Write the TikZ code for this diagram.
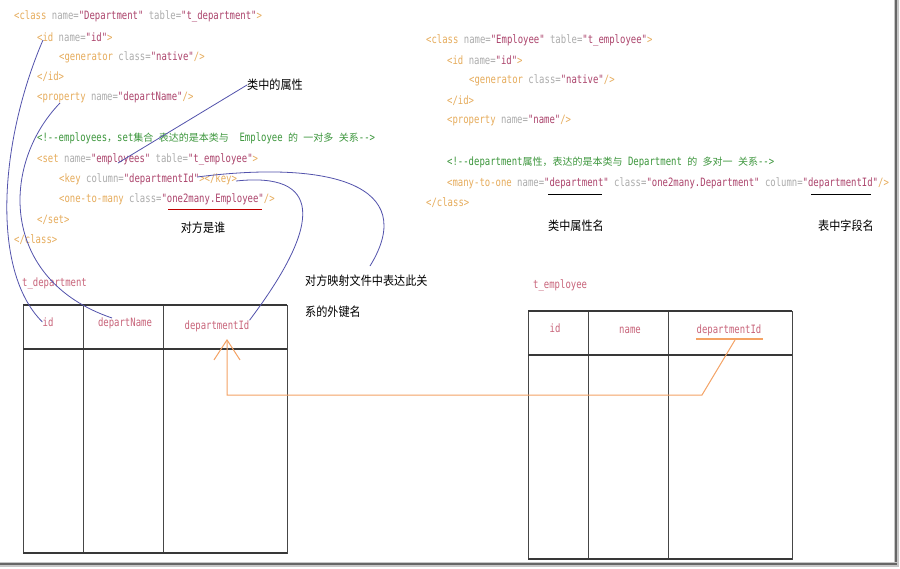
\documentclass[tikz,border=0pt]{standalone}
\usepackage{fontspec}
\usetikzlibrary{arrows.meta}
\setmonofont[FakeStretch=0.778]{DejaVu Sans Mono}
\newfontfamily\cjkc[Scale=0.87]{Noto Sans CJK SC}
\newfontfamily\cjkl[FakeStretch=0.89]{Noto Sans CJK SC}
\definecolor{tagc}{RGB}{230,172,92}
\definecolor{attc}{RGB}{172,172,172}
\definecolor{valc}{RGB}{172,68,108}
\definecolor{cmc}{RGB}{60,150,60}
\definecolor{tabc}{RGB}{200,100,122}
\definecolor{bluec}{RGB}{82,82,172}
\definecolor{orc}{RGB}{244,162,100}
\definecolor{gridc}{RGB}{70,70,70}
\newcommand\xtg[1]{\textcolor{tagc}{#1}}
\newcommand\xat[1]{\textcolor{attc}{#1}}
\newcommand\xvl[1]{\textcolor{valc}{#1}}
\newcommand\xcm[1]{\textcolor{cmc}{#1}}
\newcommand\xcj[1]{{\cjkc #1}}
\tikzset{
  code/.style={anchor=west, inner sep=0pt, font=\ttfamily\fontsize{11.5}{13}\selectfont},
  lab/.style={inner sep=0pt, font=\cjkl\fontsize{12.5}{14}\selectfont, text=black},
  cell/.style={inner sep=0pt, font=\ttfamily\fontsize{11.5}{13}\selectfont, text=tabc},
  blueln/.style={draw=bluec, line width=0.8pt},
  orln/.style={draw=orc, line width=1pt},
  grid/.style={draw=gridc, line width=0.9pt},
  gridb/.style={draw=gridc!80!black, line width=1.6pt},
}
\begin{document}
\begin{tikzpicture}[x=1pt,y=-1pt]
\useasboundingbox (0,0) rectangle (900,568);
\fill[white] (0,0) rectangle (900,568);
% frame shadow
\fill[gray!45] (894,0) rectangle (899,566);
\fill[gray!80!black] (895,0) rectangle (897,566);
\fill[gray!45] (0,562) rectangle (899,567);
\fill[gray!80!black] (0,563) rectangle (897,565);

% left code
\node[code] (l1) at (14,16) {\xtg{<class} \xat{name=}\xvl{"Department"} \xat{table=}\xvl{"t\_department"}\xtg{>}};
\node[code] (l2) at (37,37) {\xtg{<id} \xat{name=}\xvl{"id"}\xtg{>}};
\node[code] (l3) at (59,57) {\xtg{<generator} \xat{class=}\xvl{"native"}\xtg{/>}};
\node[code] (l4) at (37,77) {\xtg{</id>}};
\node[code] (l5) at (37,97) {\xtg{<property} \xat{name=}\xvl{"departName"}\xtg{/>}};
\node[code] (l6) at (37,138) {\xcm{<!--employees\xcj{，}set\xcj{集合} \xcj{表达的是本类与}\ \ Employee \xcj{的} \xcj{一对多} \xcj{关系}-->}};
\node[code] (l7) at (37,159) {\xtg{<set} \xat{name=}\xvl{"employees"} \xat{table=}\xvl{"t\_employee"}\xtg{>}};
\node[code] (l8) at (59,179) {\xtg{<key} \xat{column=}\xvl{"departmentId"}\xtg{></key>}};
\node[code] (l9) at (59,199) {\xtg{<one-to-many} \xat{class=}\xvl{"one2many.Employee"}\xtg{/>}};
\node[code] (l10) at (37,220) {\xtg{</set>}};
\node[code] (l11) at (14,240) {\xtg{</class>}};

% right code
\node[code] (r1) at (426,40) {\xtg{<class} \xat{name=}\xvl{"Employee"} \xat{table=}\xvl{"t\_employee"}\xtg{>}};
\node[code] (r2) at (447,60) {\xtg{<id} \xat{name=}\xvl{"id"}\xtg{>}};
\node[code] (r3) at (469,80) {\xtg{<generator} \xat{class=}\xvl{"native"}\xtg{/>}};
\node[code] (r4) at (447,101) {\xtg{</id>}};
\node[code] (r5) at (447,121) {\xtg{<property} \xat{name=}\xvl{"name"}\xtg{/>}};
\node[code] (r6) at (447,162) {\xcm{<!--department\xcj{属性，表达的是本类与} Department \xcj{的} \xcj{多对一} \xcj{关系}-->}};
\node[code] (r7) at (447,183) {\xtg{<many-to-one} \xat{name=}\xvl{"department"} \xat{class=}\xvl{"one2many.Department"} \xat{column=}\xvl{"departmentId"}\xtg{/>}};
\node[code] (r8) at (426,203) {\xtg{</class>}};

% underlines
\draw[draw=red!75!black, line width=1pt] (168,209) -- (262,209);
\draw[draw=black, line width=1pt] (548,194) -- (602,194);
\draw[draw=black, line width=1pt] (811,194) -- (871,194);

% chinese labels
\node[lab] (lab1) at (275,85) {类中的属性};
\node[lab] (lab2) at (203,228) {对方是谁};
\node[lab, anchor=west] (lab3) at (305,281) {对方映射文件中表达此关};
\node[lab, anchor=west] (lab4) at (305,312) {系的外键名};
\node[lab] (lab5) at (576,226) {类中属性名};
\node[lab] (lab6) at (846,226) {表中字段名};

% left table
\node[cell, anchor=west] (tdep) at (22,283) {t\_department};
\draw[grid] (23,305) rectangle (287,553);
\draw[grid] (83,305) -- (83,553);
\draw[grid] (163,305) -- (163,553);
\draw[gridb] (23,305) -- (287,305);
\draw[gridb] (23,349) -- (287,349);
\draw[gridb] (23,553) -- (287,553);
\node[cell] (did) at (48,322) {id};
\node[cell] (dname) at (125,323) {departName};
\node[cell] (ddid) at (217,326) {departmentId};

% right table
\node[cell, anchor=west] (temp) at (533,285) {t\_employee};
\draw[grid] (528,311) rectangle (792,559);
\draw[grid] (588,311) -- (588,559);
\draw[grid] (668,311) -- (668,559);
\draw[gridb] (528,311) -- (792,311);
\draw[gridb] (528,355) -- (792,355);
\draw[gridb] (528,559) -- (792,559);
\node[cell] (eid) at (555,328) {id};
\node[cell] (ename) at (630,330) {name};
\node[cell] (edid) at (729,330) {departmentId};
\draw[orln, line width=1.4pt] (696,339) -- (763,339);

% blue connectors
\coordinate (cid) at (43,40);
\coordinate (cprop) at (60,103);
\coordinate (cemp) at (118,163);
\coordinate (ckeyA) at (197,177);
\coordinate (ckeyB) at (236,181);
\coordinate (cfk) at (370,266);
\coordinate (cdn) at (112,318);
\draw[blueln] (cid) .. controls (0,140) and (-10,270) .. (did.west);
\draw[blueln] (cprop) .. controls (0,165) and (0,280) .. (cdn);
\draw[blueln] (lab1.west) -- (cemp);
\draw[blueln] (ckeyA) .. controls (330,160) and (420,185) .. (cfk);
\draw[blueln] (ckeyB) .. controls (320,172) and (325,220) .. (ddid.north east);

% orange connector
\coordinate (eund) at (735,340);
\coordinate (carr) at (227,339);
\draw[orln, -{Straight Barb[length=20pt,width=26pt,line width=1pt]}] (eund) -- (702,395) -- (227,395) -- (carr);
\end{tikzpicture}
\end{document}
